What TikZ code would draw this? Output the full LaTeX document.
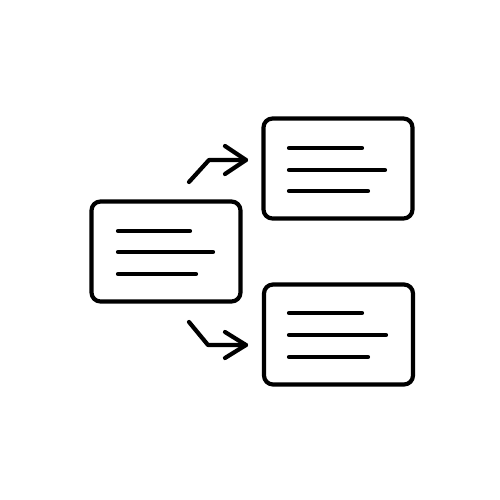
\documentclass[tikz,border=0pt]{standalone}
\begin{document}
\begin{tikzpicture}[x=0.5pt,y=-0.5pt,
  icon/.style={line width=2.1pt,line cap=round,line join=round,black},
  card/.style={icon,draw,rectangle,rounded corners=4.5pt,inner sep=0pt,
    minimum width=74.5pt,minimum height=50pt},
  textline/.style={icon}]
\fill[white] (0,0) rectangle (500,500);
\useasboundingbox (0,0) rectangle (500,500);
% cards
\node[card] (L) at (166,251.5) {};
\node[card] (T) at (338,168.5) {};
\node[card] (B) at (338.5,334.5) {};
% text lines in cards
\draw[textline] (118,231) -- (190,231);
\draw[textline] (118,252) -- (213,252);
\draw[textline] (118,274) -- (196,274);
\draw[textline] (289,148) -- (362,148);
\draw[textline] (289,170) -- (385,170);
\draw[textline] (289,191) -- (368,191);
\draw[textline] (289,313) -- (362,313);
\draw[textline] (289,335) -- (386,335);
\draw[textline] (289,357) -- (368,357);
% arrows
\coordinate (a1s) at (189,182);
\coordinate (a1m) at (209,160);
\coordinate (a1t) at (246,160);
\coordinate (a2s) at (189,322);
\coordinate (a2m) at (208,345);
\coordinate (a2t) at (246,345);
\draw[icon] (a1s) -- (a1m) -- (a1t);
\draw[icon] ([shift={(-21,-14)}]a1t) -- (a1t) -- ([shift={(-21,14)}]a1t);
\draw[icon] (a2s) -- (a2m) -- (a2t);
\draw[icon] ([shift={(-21,-13)}]a2t) -- (a2t) -- ([shift={(-21,13)}]a2t);
\end{tikzpicture}
\end{document}
